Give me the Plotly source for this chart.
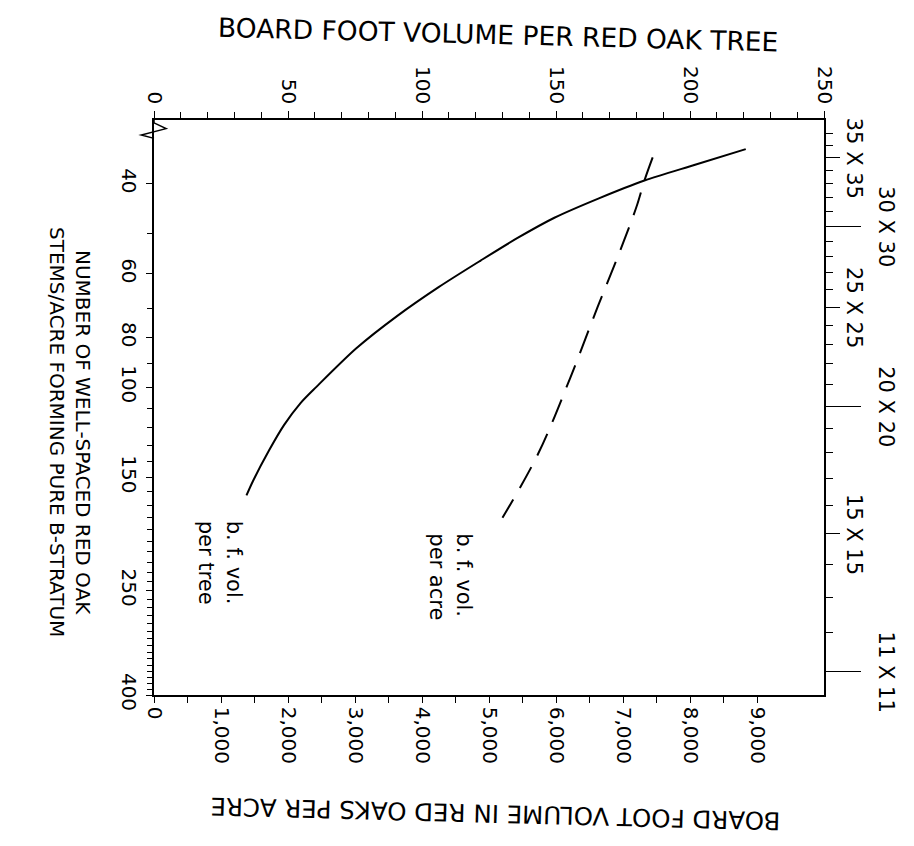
import numpy as np
import plotly.graph_objects as go

# stems per acre vs board feet per tree (solid) and per acre (dashed)
tree_stems = [34.2, 36.7, 39.4, 42.7, 46.6, 51.1, 56.5, 63.7, 72.5, 83.9,
              99.7, 107.5, 118.6, 133.0, 152.7, 162.8]
tree_vol = [220.8, 201.9, 183.0, 166.0, 149.4, 135.5, 121.9, 106.2, 90.8, 75.5,
            60.7, 54.6, 48.5, 42.9, 36.9, 34.5]

acre_stems = [35.5, 39.4, 44.4, 54.7, 69.4, 95.6, 134.8, 180.0]
acre_vol = [7443, 7320, 7200, 6942, 6626, 6216, 5735, 5201]

stem_ticks = [40, 60, 80, 100, 150, 250, 400]
tree_ticks = [0, 50, 100, 150, 200, 250]
acre_ticks = [0, 1000, 2000, 3000, 4000, 5000, 6000, 7000, 8000, 9000]
acre_labels = ["0", "1,000", "2,000", "3,000", "4,000", "5,000", "6,000", "7,000", "8,000", "9,000"]

# tree spacing in feet (square spacing) shown on the right side
spacing_long = [30, 20, 11]
spacing_mid = [35, 25, 15]
spacing_all = list(range(11, 38))


def stems_for(s):
    return 43560.0 / (s * s)


FONT = "DejaVu Sans"
# stems axis runs downward: 30 at top, 400 at bottom
yr = [np.log10(400), np.log10(30)]

fig = go.Figure()

fig.add_trace(go.Scatter(
    x=acre_vol, y=acre_stems, xaxis="x", yaxis="y",
    mode="lines", line=dict(color="black", width=2, shape="spline", dash="24px,13px"),
    showlegend=False, hoverinfo="skip"))

fig.add_trace(go.Scatter(
    x=tree_vol, y=tree_stems, xaxis="x2", yaxis="y",
    mode="lines", line=dict(color="black", width=2, shape="spline", smoothing=0.8),
    showlegend=False, hoverinfo="skip"))

# invisible helpers so the right-hand tick axes are drawn
for ax in ["y2", "y3"]:
    fig.add_trace(go.Scatter(
        x=acre_vol, y=acre_stems, xaxis="x", yaxis=ax,
        mode="lines", line=dict(color="rgba(0,0,0,0)", width=0),
        showlegend=False, hoverinfo="skip"))

axis_common = dict(showgrid=False, zeroline=False, showline=True, linecolor="black",
                   linewidth=1.5, ticks="outside", tickcolor="black", tickwidth=1.2,
                   tickfont=dict(family=FONT, size=20, color="black"))

# page body has an 8px margin, so the figure is a bit smaller than the window
fig.update_layout(
    width=898, height=830,
    margin=dict(l=146, r=82, t=112, b=143),
    paper_bgcolor="white", plot_bgcolor="white",
    xaxis=dict(axis_common, range=[0, 10000], tickmode="array",
               tickvals=acre_ticks, ticktext=acre_labels, tickangle=90, ticklen=6,
               minor=dict(tickvals=[v + 500 for v in acre_ticks[:-1]], ticklen=6,
                          tickcolor="black", ticks="outside"),
               anchor="y"),
    xaxis2=dict(axis_common, range=[0, 250], tickmode="array", tickvals=tree_ticks,
                tickangle=90, ticklen=7, side="top", overlaying="x", anchor="y",
                minor=dict(tickvals=list(range(10, 250, 10)), ticklen=6,
                           tickcolor="black", ticks="outside")),
    yaxis=dict(axis_common, type="log", range=yr, tickmode="array",
               tickvals=stem_ticks, ticktext=[str(v) for v in stem_ticks],
               tickangle=90, ticklen=6, anchor="x",
               minor=dict(tickvals=list(range(40, 401, 10)), ticklen=5,
                          tickcolor="black", ticks="outside")),
    yaxis2=dict(axis_common, type="log", range=yr, side="right", overlaying="y",
                anchor="x", tickmode="array",
                tickvals=[stems_for(s) for s in spacing_long], ticklen=35,
                showticklabels=False,
                minor=dict(tickvals=[stems_for(s) for s in spacing_all], ticklen=7,
                           tickcolor="black", ticks="outside")),
    yaxis3=dict(axis_common, type="log", range=yr, side="right", overlaying="y",
                anchor="x", tickmode="array", showline=False,
                tickvals=[stems_for(s) for s in spacing_mid], ticklen=15,
                showticklabels=False),
)

# axis break mark at the top of the stems axis
fig.add_shape(type="path", xref="paper", yref="paper",
              path="M 0,1 L 0,0.995 L 0.018,0.985 L -0.019,0.974 L 0,0.968",
              line=dict(color="black", width=1.5))

ann = []
for s in spacing_long + spacing_mid:
    ann.append(dict(x=1, xref="paper", y=np.log10(stems_for(s)), yref="y2",
                    text=f"{s} X {s}", showarrow=False, textangle=90,
                    xanchor="center", yanchor="middle",
                    xshift=62 if s in spacing_long else 30,
                    font=dict(family=FONT, size=21, color="black")))

ann += [
    dict(x=0.513, y=1.148, text="BOARD FOOT VOLUME PER RED OAK TREE", textangle=1.5,
         font=dict(family=FONT, size=26.5, color="black")),
    dict(x=0.51, y=-0.207, text="BOARD FOOT VOLUME IN RED OAKS PER ACRE", textangle=181.5,
         font=dict(family=FONT, size=24.5, color="black")),
    dict(x=-0.125, y=0.457,
         text="NUMBER OF WELL-SPACED RED OAK<br>STEMS/ACRE FORMING PURE B-STRATUM",
         textangle=90, font=dict(family=FONT, size=20, color="black")),
    dict(x=0.0985, y=0.23, text="b. f. vol.<br>per tree", textangle=90, align="left",
         font=dict(family=FONT, size=21, color="black")),
    dict(x=0.443, y=0.205, text="b. f. vol.<br>per acre", textangle=90, align="left",
         font=dict(family=FONT, size=21, color="black")),
]
for a in ann[6:]:
    a.update(xref="paper", yref="paper", showarrow=False, xanchor="center", yanchor="middle")
fig.update_layout(annotations=ann)

fig.write_html("out.html")
